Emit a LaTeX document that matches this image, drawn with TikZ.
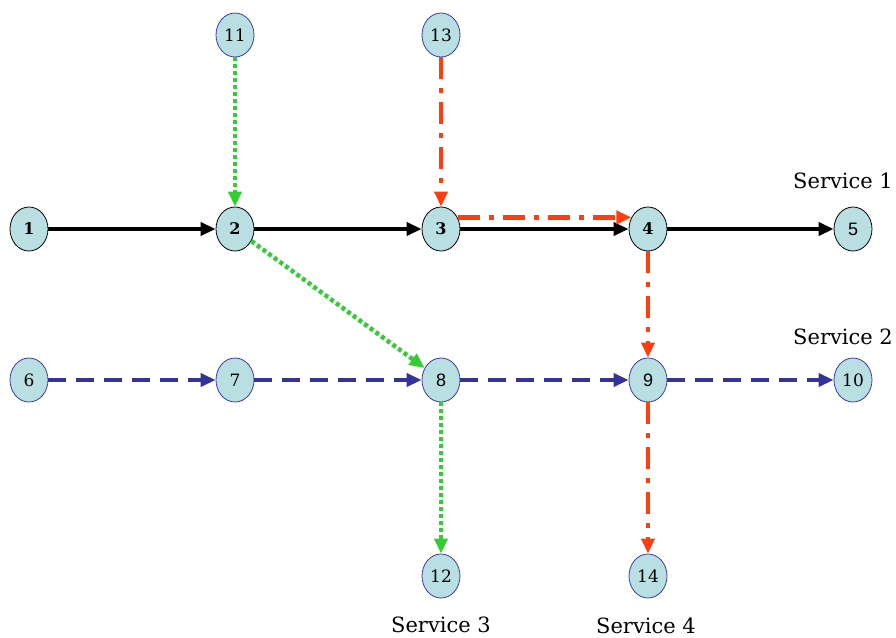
\documentclass[tikz,border=0pt]{standalone}
\usepackage{fontspec}
\setmainfont{DejaVu Serif}
\newfontfamily\numsans{Liberation Sans}
\usetikzlibrary{shapes.geometric,arrows.meta}
\definecolor{nodefill}{HTML}{B9DFE2}
\definecolor{nodeblue}{HTML}{3A3AA8}
\definecolor{svcred}{HTML}{FF3D0F}
\definecolor{svcgreen}{HTML}{33CC33}
\definecolor{svcblue}{HTML}{333399}
\tikzset{
  stop/.style={ellipse, fill=nodefill, draw=nodeblue, line width=0.8pt,
    minimum width=38pt, minimum height=44pt, inner sep=0pt,
    font=\fontsize{17}{17}\selectfont},
  stopblack/.style={stop, draw=black, font=\bfseries\fontsize{16}{16}\selectfont},
  sansnum/.style={font=\numsans\fontsize{18}{18}\selectfont},
  svclabel/.style={font=\fontsize{21}{21}\selectfont, inner sep=0pt},
  tip/.style={-{Triangle[length=15pt,width=13pt]}},
  line1/.style={line width=4.5pt, black, tip},
  line2/.style={line width=4.5pt, svcblue, dash pattern=on 18pt off 10pt, tip},
  line3/.style={line width=4.5pt, svcgreen, dash pattern=on 4pt off 3pt, tip},
  line4/.style={line width=4.5pt, svcred, dash pattern=on 22pt off 9pt on 5pt off 9pt, tip},
}
\begin{document}
\begin{tikzpicture}[x=1pt,y=-1pt]
\useasboundingbox (0,0) rectangle (896,637);
% service 1 stops
\node[stopblack] (n1) at (29,229) {1};
\node[stopblack] (n2) at (235,229) {2};
\node[stopblack] (n3) at (441,229) {3};
\node[stopblack] (n4) at (648,229) {4};
\node[stopblack, sansnum] (n5) at (853,229) {5};
% service 2 stops
\node[stop] (n6) at (29,380) {6};
\node[stop] (n7) at (235,380) {7};
\node[stop, sansnum] (n8) at (441,380) {8};
\node[stop, sansnum] (n9) at (648,380) {9};
\node[stop] (n10) at (853,380) {10};
% branch stops
\node[stop] (n11) at (235,35) {11};
\node[stop] (n13) at (441,35) {13};
\node[stop] (n12) at (441,576) {12};
\node[stop] (n14) at (648,576) {14};
% service labels
\node[svclabel] (s1) at (843,181) {Service 1};
\node[svclabel] (s2) at (843,337) {Service 2};
\node[svclabel] (s3) at (441,625) {Service 3};
\node[svclabel] (s4) at (646,626) {Service 4};
% service 1
\draw[line1] (n1) -- (n2);
\draw[line1] (n2) -- (n3);
\draw[line1] (n3) -- (n4);
\draw[line1] (n4) -- (n5);
% service 2
\draw[line2] (n6) -- (n7);
\draw[line2] (n7) -- (n8);
\draw[line2] (n8) -- (n9);
\draw[line2] (n9) -- (n10);
% service 3
\draw[line3] (n11) -- (n2);
\draw[line3] (n2) -- (n8);
\draw[line3] (n8) -- (n12);
% service 4
\draw[line4] (n13) -- (n3);
\draw[line4] (n3.35) -- (n4.145);
\draw[line4] (n4) -- (n9);
\draw[line4] (n9) -- (n14);
\end{tikzpicture}
\end{document}
